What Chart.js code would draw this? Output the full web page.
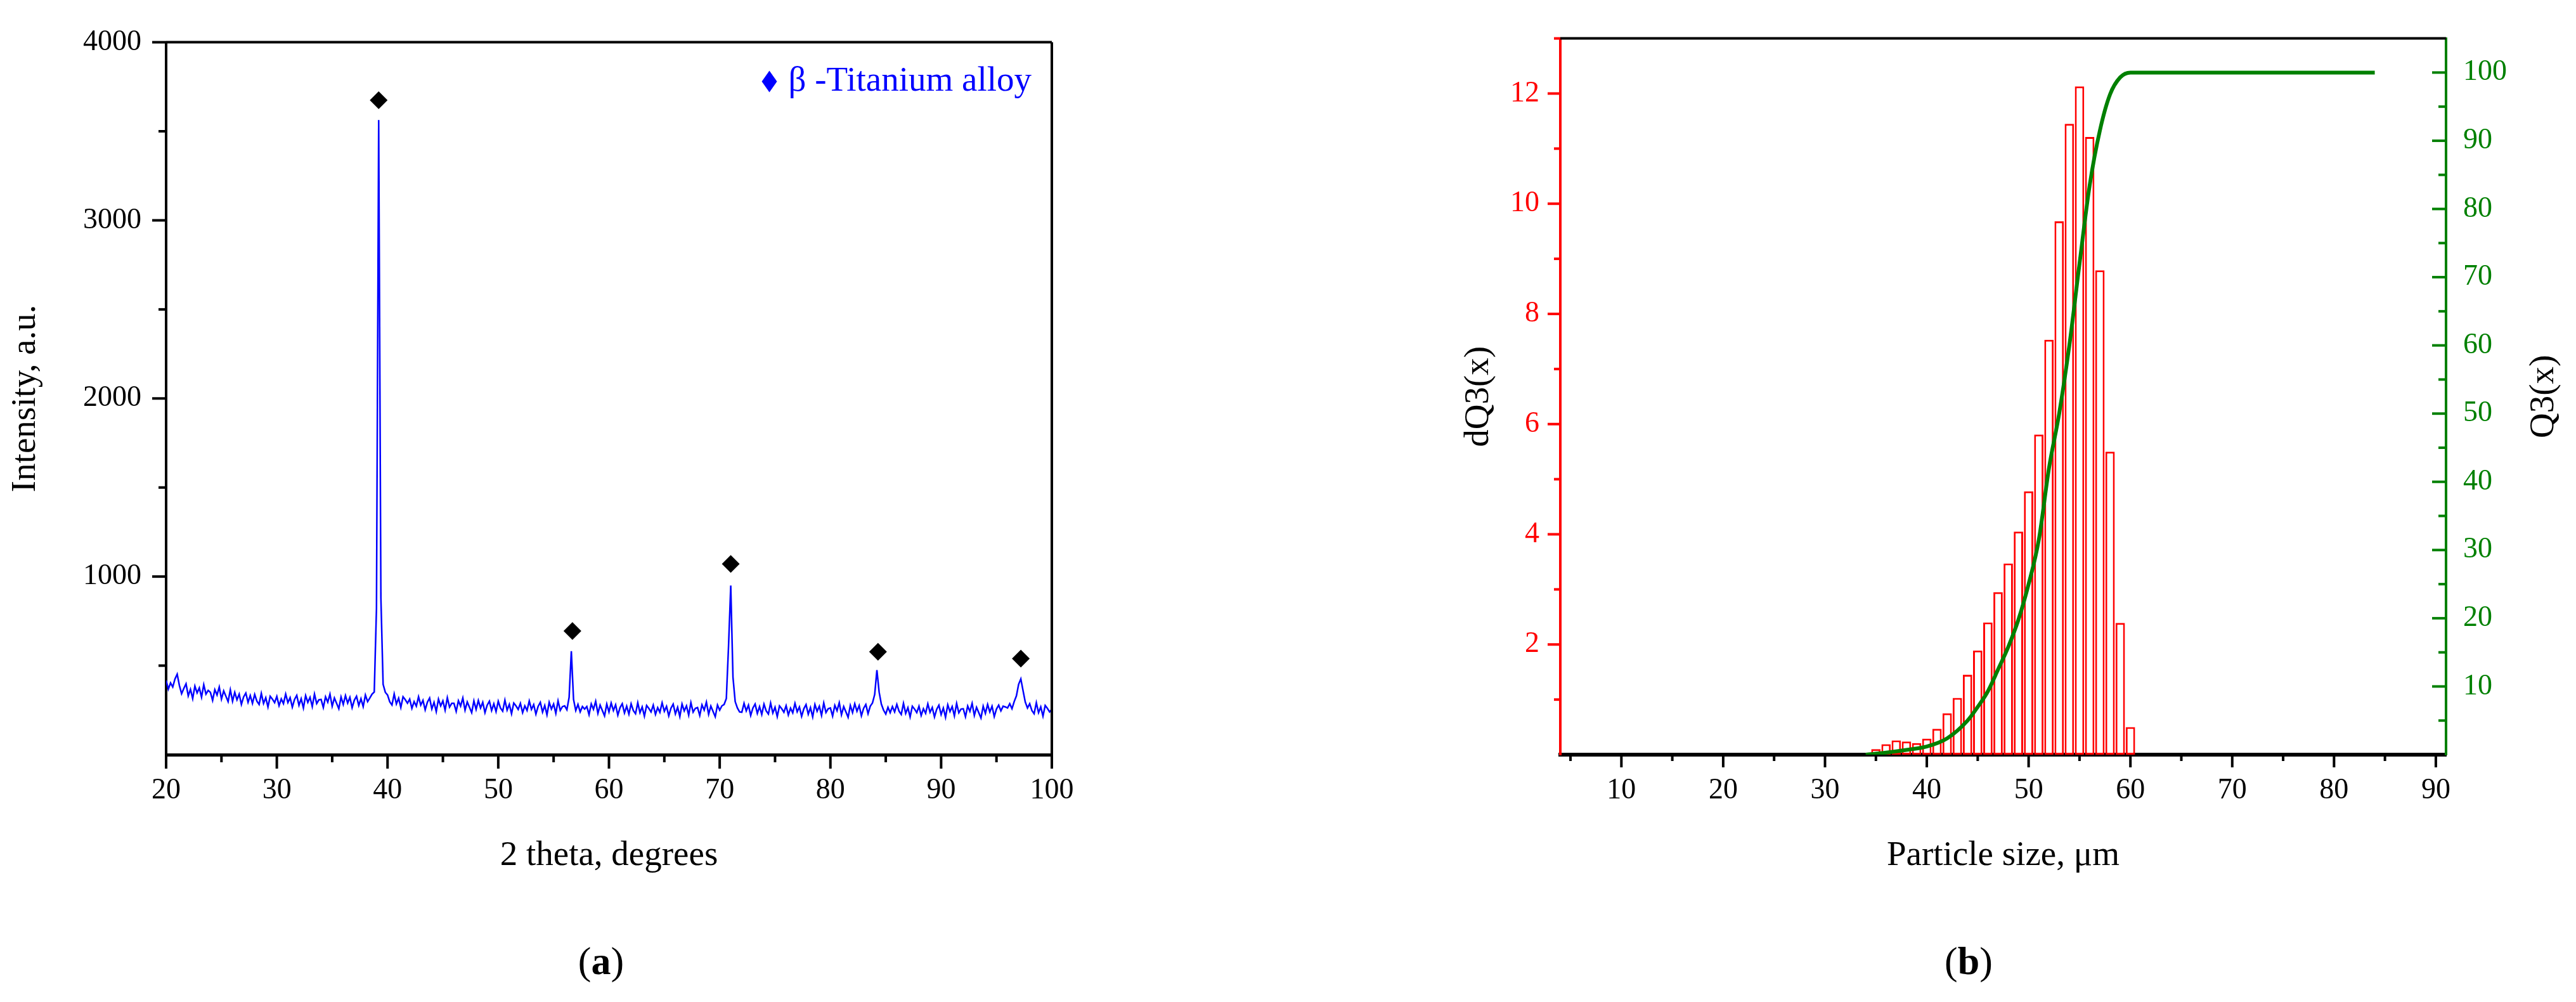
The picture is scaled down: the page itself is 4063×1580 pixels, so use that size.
<!DOCTYPE html>
<html>
<head>
<meta charset="utf-8">
<script src="https://cdn.jsdelivr.net/npm/chart.js@4.4.1/dist/chart.umd.min.js"></script>
<style>
  body { margin: 0; background: #fff; width: 4063px; height: 1580px; position: relative; overflow: hidden; font-family: 'Liberation Serif', serif; }
  canvas { position: absolute; top: 0; }
  #xrdChart { left: 0; }
  #psdChart { left: 2000px; }
  .panel { position: absolute; top: 1515px; font-size: 62px; transform: translate(-50%, -50%); }
</style>
</head>
<body>
<canvas id="xrdChart" width="2000" height="1430"></canvas>
<canvas id="psdChart" width="2063" height="1430"></canvas>
<div class="panel" style="left:948px">(<b>a</b>)</div>
<div class="panel" style="left:3105px">(<b>b</b>)</div>
<script>
const FONT = "'Liberation Serif', 'DejaVu Serif', serif";

// ---- (a) XRD pattern, 2 theta from 20 to 100 in 0.2 degree steps
const xrdThetaStart = 20;
const xrdThetaStep = 0.2;
const xrdIntensity = [
  417, 368, 403, 380, 425, 452, 388, 342, 372, 398,
  330, 367, 315, 385, 347, 375, 323, 393, 340, 361,
  350, 305, 365, 335, 380, 312, 358, 328, 298, 364,
  300, 350, 308, 340, 282, 324, 346, 294, 332, 288,
  338, 300, 282, 344, 288, 320, 268, 328, 312, 292,
  327, 275, 313, 287, 340, 293, 320, 267, 310, 333,
  277, 314, 262, 332, 294, 322, 270, 340, 287, 308,
  310, 265, 325, 295, 340, 272, 318, 288, 258, 324,
  282, 332, 290, 322, 264, 306, 328, 276, 314, 270,
  335, 298, 318, 340, 352, 820, 3563, 880, 395, 350,
  335, 297, 279, 341, 285, 317, 265, 325, 309, 289,
  312, 260, 298, 272, 325, 278, 305, 252, 295, 318,
  257, 294, 242, 312, 274, 302, 250, 320, 267, 288,
  288, 243, 303, 273, 318, 250, 296, 266, 236, 302,
  254, 304, 262, 294, 236, 278, 300, 248, 286, 242,
  300, 262, 244, 306, 250, 282, 230, 290, 274, 254,
  288, 236, 274, 248, 301, 254, 281, 228, 271, 294,
  239, 276, 224, 294, 256, 284, 232, 302, 249, 270,
  274, 252, 322, 581, 310, 248, 282, 240, 270, 256,
  270, 225, 285, 255, 300, 232, 278, 248, 218, 284,
  240, 290, 248, 280, 222, 264, 286, 234, 272, 228,
  286, 248, 230, 292, 236, 268, 216, 276, 260, 240,
  278, 226, 264, 238, 291, 244, 271, 218, 261, 284,
  229, 266, 214, 284, 246, 274, 222, 292, 239, 260,
  265, 220, 280, 250, 295, 227, 273, 243, 213, 279,
  250, 274, 282, 315, 610, 950, 435, 298, 262, 240,
  238, 288, 246, 278, 220, 262, 284, 232, 270, 226,
  284, 246, 228, 290, 234, 266, 214, 274, 258, 238,
  275, 223, 261, 235, 288, 241, 268, 215, 258, 281,
  227, 264, 212, 282, 244, 272, 220, 290, 237, 258,
  262, 217, 277, 247, 292, 224, 270, 240, 210, 276,
  236, 286, 244, 276, 218, 260, 282, 230, 272, 290,
  338, 475, 352, 284, 250, 228, 266, 236, 270, 240,
  282, 244, 226, 288, 232, 264, 212, 272, 256, 236,
  272, 220, 258, 232, 285, 238, 265, 212, 255, 278,
  225, 262, 210, 280, 242, 270, 218, 288, 235, 256,
  258, 213, 273, 243, 288, 220, 266, 236, 206, 272,
  232, 282, 240, 272, 214, 256, 278, 246, 272, 268,
  262, 286, 258, 298, 330, 395, 425, 360, 296, 262,
  286, 248, 230, 292, 236, 268, 216, 276, 260, 240,
  255
];
const peakTheta = [39.2, 56.7, 71.0, 84.3, 97.2];
const peakMarkY = [3675, 694, 1071, 578, 539];
const xrdLegend = 'β -Titanium alloy';
const xrdXTicks = [20, 30, 40, 50, 60, 70, 80, 90, 100];
const xrdXMinor = [25, 35, 45, 55, 65, 75, 85, 95];
const xrdYTicks = [1000, 2000, 3000, 4000];
const xrdYMinor = [500, 1500, 2500, 3500];

// ---- (b) particle size distribution
const psdSize = [35, 36, 37, 38, 39, 40, 41, 42, 43, 44, 45, 46, 47, 48, 49, 50, 51, 52, 53, 54, 55, 56, 57, 58, 59, 60];
const dQ3 = [0.10, 0.19, 0.26, 0.24, 0.21, 0.29, 0.47, 0.75, 1.03, 1.45, 1.89, 2.40, 2.95, 3.47, 4.05, 4.78, 5.81, 7.53, 9.68, 11.45, 12.13, 11.21, 8.79, 5.50, 2.39, 0.50];
const q3Size = [34, 36, 38, 40, 42, 44, 45, 46, 47, 48, 49, 50, 51, 52, 53, 54, 55, 56, 57, 58, 59, 60, 84];
const q3Values = [0, 0.3, 0.7, 1.2, 2.4, 5.0, 7.0, 9.3, 12.5, 15.8, 19.8, 25.0, 31.5, 42, 50, 60, 72, 83.5, 91.5, 96.8, 99.3, 100, 100];
const psdXTicks = [10, 20, 30, 40, 50, 60, 70, 80, 90];
const psdXMinor = [5, 15, 25, 35, 45, 55, 65, 75, 85];
const dq3Ticks = [2, 4, 6, 8, 10, 12];
const dq3Minor = [1, 3, 5, 7, 9, 11, 13];
const q3Ticks = [10, 20, 30, 40, 50, 60, 70, 80, 90, 100];
const q3Minor = [5, 15, 25, 35, 45, 55, 65, 75, 85, 95];

const BLUE = '#0000ff';
const RED = '#ff0000';
const GREEN = '#008000';

// tick marks and frame lines, drawn from the scales
const axisDecor = {
  id: 'axisDecor',
  afterDraw(chart, args, opts) {
    const {ctx, chartArea: area} = chart;
    ctx.save();
    ctx.lineCap = 'butt';
    (opts.frame || []).forEach(f => {
      ctx.strokeStyle = f.color;
      ctx.lineWidth = f.width;
      ctx.beginPath();
      if (f.side === 'top') { ctx.moveTo(area.left, area.top); ctx.lineTo(area.right, area.top); }
      if (f.side === 'right') { ctx.moveTo(area.right, area.top); ctx.lineTo(area.right, area.bottom); }
      ctx.stroke();
    });
    (opts.marks || []).forEach(sp => {
      const scale = chart.scales[sp.scale];
      ctx.strokeStyle = sp.color;
      ctx.lineWidth = sp.width;
      const mark = (v, len) => {
        const p = scale.getPixelForValue(v);
        ctx.beginPath();
        if (sp.side === 'bottom') { ctx.moveTo(p, area.bottom); ctx.lineTo(p, area.bottom + len); }
        else if (sp.side === 'left') { ctx.moveTo(area.left, p); ctx.lineTo(area.left - len, p); }
        else { ctx.moveTo(area.right, p); ctx.lineTo(area.right - len, p); }
        ctx.stroke();
      };
      sp.major.forEach(v => mark(v, sp.len));
      sp.minor.forEach(v => mark(v, sp.minorLen));
    });
    ctx.restore();
  }
};

// legend inside the top right corner of the plot
const cornerLegend = {
  id: 'cornerLegend',
  afterDraw(chart, args, opts) {
    const {ctx, chartArea: area} = chart;
    ctx.save();
    ctx.font = opts.size + 'px ' + FONT;
    ctx.fillStyle = opts.color;
    ctx.textAlign = 'right';
    ctx.textBaseline = 'middle';
    const y = area.top + opts.dy;
    const xEnd = area.right - opts.dx;
    ctx.fillText(opts.text, xEnd, y);
    const w = ctx.measureText(opts.text).width;
    const cx = xEnd - w - 30;
    ctx.beginPath();
    ctx.moveTo(cx, y - 17);
    ctx.lineTo(cx + 12, y);
    ctx.lineTo(cx, y + 17);
    ctx.lineTo(cx - 12, y);
    ctx.closePath();
    ctx.fill();
    ctx.restore();
  }
};

const fixedTicks = list => scale => { scale.ticks = list.map(v => ({value: v})); };
const plainLabel = v => String(v);

// ---------- chart (a)
const xrdPoints = xrdIntensity.map((v, i) => ({x: +(xrdThetaStart + i * xrdThetaStep).toFixed(1), y: v}));
const peakPoints = peakTheta.map((t, i) => ({x: t, y: peakMarkY[i]}));

new Chart(document.getElementById('xrdChart'), {
  type: 'line',
  data: {
    datasets: [
      {
        label: 'markers',
        data: peakPoints,
        showLine: false,
        pointStyle: 'rectRot',
        pointRadius: 14,
        pointBackgroundColor: '#000',
        pointBorderColor: '#000',
        pointBorderWidth: 0
      },
      {
        label: 'XRD',
        data: xrdPoints,
        borderColor: BLUE,
        borderWidth: 2.5,
        pointRadius: 0,
        tension: 0,
        fill: false
      }
    ]
  },
  options: {
    responsive: false,
    animation: false,
    devicePixelRatio: 1,
    layout: { padding: { left: 0, top: 60, right: 341, bottom: 0 } },
    scales: {
      x: {
        type: 'linear', min: 20, max: 100,
        afterBuildTicks: fixedTicks(xrdXTicks),
        afterFit: s => { s.height = 240; },
        grid: { display: false, drawTicks: false },
        border: { display: true, color: '#000', width: 5 },
        ticks: { padding: 29, color: '#000', font: { family: FONT, size: 46 }, maxRotation: 0, autoSkip: false, callback: plainLabel },
        title: { display: true, text: '2 theta, degrees', color: '#000', font: { family: FONT, size: 55 }, padding: { top: 0, bottom: 47 } }
      },
      y: {
        min: 0, max: 4000,
        afterBuildTicks: fixedTicks(xrdYTicks),
        afterFit: s => { s.width = 262; },
        grid: { display: false, drawTicks: false },
        border: { display: true, color: '#000', width: 4 },
        ticks: { padding: 39, color: '#000', font: { family: FONT, size: 46 }, callback: plainLabel },
        title: { display: true, text: 'Intensity, a.u.', color: '#000', font: { family: FONT, size: 55 }, padding: { top: 8, bottom: 0 } }
      }
    },
    plugins: {
      legend: { display: false },
      tooltip: { enabled: false },
      cornerLegend: { text: xrdLegend, color: BLUE, size: 55, dx: 32, dy: 62 },
      axisDecor: {
        frame: [
          { side: 'top', color: '#000', width: 4 },
          { side: 'right', color: '#000', width: 4 }
        ],
        marks: [
          { scale: 'x', side: 'bottom', major: xrdXTicks, minor: xrdXMinor, len: 22, minorLen: 12, color: '#000', width: 4 },
          { scale: 'y', side: 'left', major: xrdYTicks, minor: xrdYMinor, len: 22, minorLen: 12, color: '#000', width: 4 }
        ]
      }
    }
  },
  plugins: [axisDecor, cornerLegend]
});

// ---------- chart (b)
const rightTitle = {
  id: 'rightTitle',
  afterDraw(chart, args, opts) {
    const {ctx, chartArea} = chart;
    const s = chart.scales.y2;
    ctx.save();
    ctx.translate(s.right - opts.offset, (chartArea.top + chartArea.bottom) / 2);
    ctx.rotate(-Math.PI / 2);
    ctx.font = '55px ' + FONT;
    ctx.fillStyle = '#000';
    ctx.textAlign = 'center';
    ctx.textBaseline = 'middle';
    ctx.fillText(opts.text, 0, 0);
    ctx.restore();
  }
};

new Chart(document.getElementById('psdChart'), {
  type: 'bar',
  data: {
    datasets: [
      {
        type: 'line',
        label: 'Q3(x)',
        data: q3Size.map((x, i) => ({x: x, y: q3Values[i]})),
        yAxisID: 'y2',
        borderColor: GREEN,
        borderWidth: 6,
        pointRadius: 0,
        cubicInterpolationMode: 'monotone',
        fill: false
      },
      {
        type: 'bar',
        label: 'dQ3(x)',
        data: psdSize.map((x, i) => ({x: x, y: dQ3[i]})),
        yAxisID: 'y',
        backgroundColor: '#ffffff',
        borderColor: RED,
        borderWidth: 3,
        borderSkipped: false,
        barPercentage: 0.92,
        categoryPercentage: 1.0
      }
    ]
  },
  options: {
    responsive: false,
    animation: false,
    devicePixelRatio: 1,
    layout: { padding: { left: 0, top: 60, right: 0, bottom: 0 } },
    scales: {
      x: {
        type: 'linear', min: 4, max: 91, offset: false,
        afterBuildTicks: fixedTicks(psdXTicks),
        afterFit: s => { s.height = 240; },
        grid: { display: false, drawTicks: false },
        border: { display: true, color: '#000', width: 6 },
        ticks: { padding: 29, color: '#000', font: { family: FONT, size: 46 }, maxRotation: 0, autoSkip: false, callback: plainLabel },
        title: { display: true, text: 'Particle size, μm', color: '#000', font: { family: FONT, size: 55 }, padding: { top: 0, bottom: 47 } }
      },
      y: {
        position: 'left',
        min: 0, max: 13,
        afterBuildTicks: fixedTicks(dq3Ticks),
        afterFit: s => { s.width = 461; },
        grid: { display: false, drawTicks: false },
        border: { display: true, color: RED, width: 4 },
        ticks: { padding: 33, color: RED, font: { family: FONT, size: 46 }, callback: plainLabel },
        title: { display: true, text: 'dQ3(x)', color: '#000', font: { family: FONT, size: 55 }, padding: { top: 300, bottom: 0 } }
      },
      y2: {
        position: 'right',
        min: 0, max: 105,
        afterBuildTicks: fixedTicks(q3Ticks),
        afterFit: s => { s.width = 205; },
        grid: { display: false, drawTicks: false },
        border: { display: true, color: GREEN, width: 4 },
        ticks: { padding: 27, color: GREEN, font: { family: FONT, size: 46 }, callback: plainLabel }
      }
    },
    plugins: {
      legend: { display: false },
      tooltip: { enabled: false },
      rightTitle: { text: 'Q3(x)', offset: 50 },
      axisDecor: {
        frame: [ { side: 'top', color: '#000', width: 4 } ],
        marks: [
          { scale: 'x', side: 'bottom', major: psdXTicks, minor: psdXMinor, len: 20, minorLen: 10, color: '#000', width: 4 },
          { scale: 'y', side: 'left', major: dq3Ticks, minor: dq3Minor, len: 20, minorLen: 10, color: RED, width: 4 },
          { scale: 'y2', side: 'right', major: q3Ticks, minor: q3Minor, len: 22, minorLen: 12, color: GREEN, width: 4 }
        ]
      }
    }
  },
  plugins: [axisDecor, rightTitle]
});
</script>
</body>
</html>
